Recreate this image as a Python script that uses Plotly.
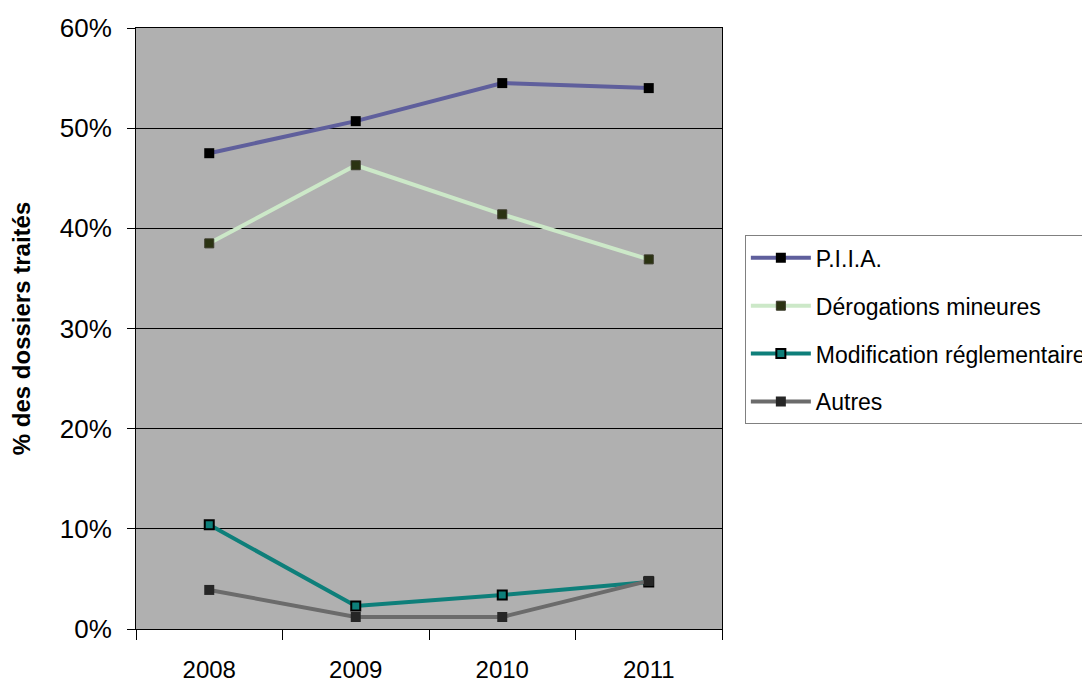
import plotly.graph_objects as go

years = ["2008", "2009", "2010", "2011"]
piia = [0.475, 0.507, 0.545, 0.540]
derogations = [0.385, 0.463, 0.414, 0.369]
modification = [0.104, 0.023, 0.034, 0.047]
autres = [0.039, 0.012, 0.012, 0.048]

y_ticks = [0, 0.1, 0.2, 0.3, 0.4, 0.5, 0.6]

FONT = "Liberation Sans, Arial"

series = [
    ("P.I.I.A.", piia, "#5F5F9C", dict(symbol="square", color="#000000", size=10)),
    ("Dérogations mineures", derogations, "#CCE8C8", dict(symbol="square", color="#2B3312", size=9,
                                                           line=dict(color="#3a3a2a", width=1))),
    ("Modification réglementaire", modification, "#0E7F7A", dict(symbol="square", color="#0E7F7A", size=9,
                                                                  line=dict(color="#000000", width=2))),
    ("Autres", autres, "#6B6B6B", dict(symbol="square", color="#262626", size=10)),
]

fig = go.Figure()
for i, (name, vals, col, mk) in enumerate(series):
    fig.add_trace(go.Scatter(
        x=years, y=vals, name=name, mode="lines+markers",
        line=dict(color=col, width=4), marker=mk, legendgroup=f"g{i}",
    ))

# page body has an 8px default margin, so the figure is sized/offset to compensate
fig.update_layout(
    width=1082, height=675,
    margin=dict(l=128, r=368, t=20, b=54, autoexpand=False),
    paper_bgcolor="white",
    plot_bgcolor="#B0B0B0",
    font=dict(family=FONT, size=24, color="#000000"),
    showlegend=True,
    legend=dict(
        x=1.039, y=0.655, xanchor="left", yanchor="top",
        bordercolor="#808080", borderwidth=1, bgcolor="white",
        font=dict(family=FONT, size=23), tracegroupgap=15,
        traceorder="grouped", itemwidth=60,
    ),
)
fig.update_xaxes(
    type="category", range=[-0.5, 3.5], showgrid=False,
    showline=True, linecolor="#000000", linewidth=1, mirror=True,
    ticks="", tickfont=dict(size=24), ticklabelstandoff=19,
)
fig.update_yaxes(
    range=[0, 0.6], tickvals=y_ticks, tickformat=".0%",
    showgrid=True, gridcolor="#000000", gridwidth=1,
    showline=True, linecolor="#000000", linewidth=1, mirror=True,
    ticks="outside", ticklen=8, tickcolor="#000000",
    zeroline=False, tickfont=dict(size=26), ticklabelstandoff=10,
    title=dict(text="<b>% des dossiers traités</b>", font=dict(size=24), standoff=23),
)
# category-boundary tick marks on x axis
fig.add_trace(go.Scatter(x=[], y=[], showlegend=False))
fig.update_layout(xaxis2=dict(
    overlaying="x", range=[0, 4], tickvals=[0, 1, 2, 3, 4], ticktext=[""] * 5,
    ticks="outside", ticklen=10, tickcolor="#000000", side="bottom",
    showgrid=False, showline=False, zeroline=False,
))
fig.data[-1].update(xaxis="x2")

fig.write_html("out.html")
